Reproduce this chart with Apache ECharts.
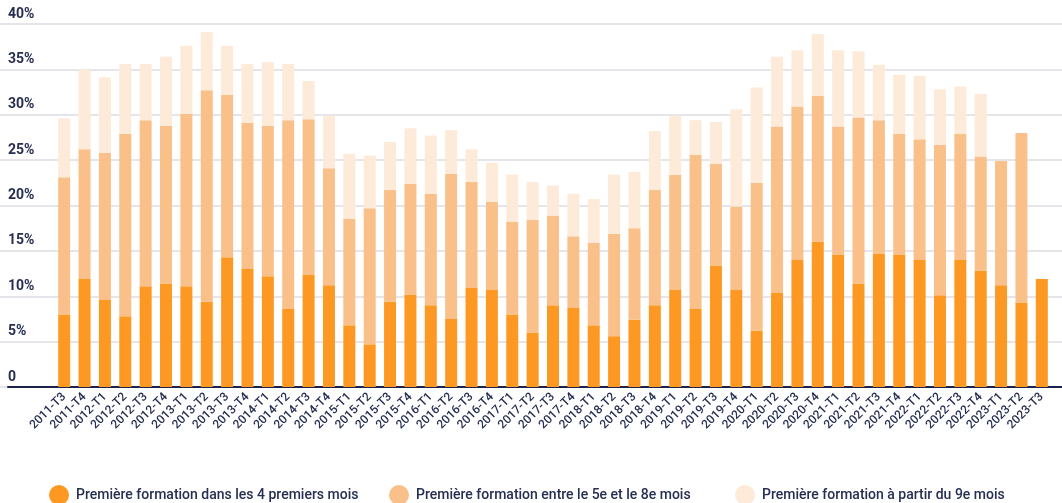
<!DOCTYPE html>
<html>
<head>
<meta charset="utf-8">
<script src="https://cdn.jsdelivr.net/npm/echarts@6/dist/echarts.min.js"></script>
<style>
  html, body { margin: 0; padding: 0; background: #fff; }
  #chart { width: 1062px; height: 503px; }
</style>
</head>
<body>
<div id="chart"></div>
<script>
// trimestres
var quarters = [
    '2011-T3','2011-T4',
    '2012-T1','2012-T2','2012-T3','2012-T4',
    '2013-T1','2013-T2','2013-T3','2013-T4',
    '2014-T1','2014-T2','2014-T3','2014-T4',
    '2015-T1','2015-T2','2015-T3','2015-T4',
    '2016-T1','2016-T2','2016-T3','2016-T4',
    '2017-T1','2017-T2','2017-T3','2017-T4',
    '2018-T1','2018-T2','2018-T3','2018-T4',
    '2019-T1','2019-T2','2019-T3','2019-T4',
    '2020-T1','2020-T2','2020-T3','2020-T4',
    '2021-T1','2021-T2','2021-T3','2021-T4',
    '2022-T1','2022-T2','2022-T3','2022-T4',
    '2023-T1','2023-T2','2023-T3'
];

// dans les 4 premiers mois
var first4 = [
    8.0, 11.9,
    9.6, 7.8, 11.1, 11.4,
    11.1, 9.4, 14.3, 13.0,
    12.2, 8.6, 12.4, 11.2,
    6.8, 4.7, 9.4, 10.2,
    9.0, 7.5, 10.9, 10.7,
    8.0, 6.0, 9.0, 8.7,
    6.8, 5.6, 7.4, 9.0,
    10.7, 8.6, 13.4, 10.7,
    6.2, 10.4, 14.0, 16.0,
    14.6, 11.4, 14.7, 14.6,
    14.0, 10.1, 14.0, 12.8,
    11.2, 9.3, 11.9
];

// entre le 5e et le 8e mois
var month5to8 = [
    15.1, 14.3,
    16.2, 20.1, 18.3, 17.4,
    19.0, 23.3, 17.9, 16.1,
    16.6, 20.8, 17.1, 12.9,
    11.7, 15.0, 12.3, 12.2,
    12.3, 16.0, 11.7, 9.7,
    10.2, 12.4, 9.9, 7.9,
    9.1, 11.3, 10.1, 12.7,
    12.7, 17.0, 11.2, 9.2,
    16.3, 18.3, 16.9, 16.1,
    14.1, 18.3, 14.7, 13.3,
    13.3, 16.6, 13.9, 12.6,
    13.7, 18.7, 0
];

// a partir du 9e mois
var month9plus = [
    6.5, 8.8,
    8.3, 7.7, 6.2, 7.6,
    7.5, 6.4, 5.4, 6.5,
    7.0, 6.2, 4.2, 5.8,
    7.2, 5.8, 5.3, 6.1,
    6.4, 4.8, 3.6, 4.3,
    5.2, 4.2, 3.3, 4.7,
    4.8, 6.5, 6.2, 6.5,
    6.5, 3.8, 4.6, 10.7,
    10.5, 7.7, 6.2, 6.8,
    8.4, 7.3, 6.1, 6.5,
    7.0, 6.1, 5.2, 6.9,
    0, 0, 0
];

var seriesNames = [
    'Première formation dans les 4 premiers mois',
    'Première formation entre le 5e et le 8e mois',
    'Première formation à partir du 9e mois'
];
var colors = ['#fd9823', '#f9c089', '#fdead8'];

var navy = '#262e52';
var chart = echarts.init(document.getElementById('chart'));

var barSerie = function (name, data, color) {
    return {
        name: name,
        type: 'bar',
        stack: 'total',
        xAxisIndex: 1,
        yAxisIndex: 1,
        barWidth: 12,
        itemStyle: { color: color },
        data: data
    };
};

// une légende par entrée pour caler les positions
var legendAt = function (name, left) {
    return {
        left: left,
        top: 480,
        icon: 'circle',
        itemWidth: 20,
        itemHeight: 20,
        textStyle: { color: navy, fontSize: 14, fontWeight: 500, padding: [0, 0, 0, 2] },
        data: [name]
    };
};

var option = {
    animation: false,
    textStyle: { fontFamily: 'Roboto' },
    grid: [
        { left: 0, right: 0, top: 24, bottom: 116 },   // quadrillage
        { left: 54, right: 10, top: 24, bottom: 116 }, // barres
        { left: 8, right: 0, top: 24, bottom: 116 }    // ligne d'axe
    ],
    xAxis: [
        { gridIndex: 0, type: 'value', show: false },
        {
            gridIndex: 1,
            type: 'category',
            data: quarters,
            boundaryGap: true,
            axisLine: { show: false },
            axisTick: { show: false },
            axisLabel: {
                rotate: 45,
                interval: 0,
                margin: 8,
                color: navy,
                fontSize: 12,
                fontWeight: 500
            }
        },
        {
            gridIndex: 2,
            type: 'value',
            axisLine: { show: true, lineStyle: { color: '#1b2348', width: 2 } },
            axisTick: { show: false },
            axisLabel: { show: false },
            splitLine: { show: false }
        }
    ],
    yAxis: [
        {
            gridIndex: 0,
            type: 'value',
            min: 0,
            max: 40,
            interval: 5,
            axisLine: { show: false },
            axisTick: { show: false },
            splitLine: { lineStyle: { color: '#dcdce4', width: 1.5 } },
            axisLabel: {
                inside: true,
                margin: 8,
                align: 'left',
                verticalAlign: 'bottom',
                padding: [0, 0, 3, 0],
                color: navy,
                fontSize: 14,
                fontWeight: 'bold',
                formatter: function (v) { return v === 0 ? '0' : v + '%'; }
            }
        },
        { gridIndex: 1, type: 'value', min: 0, max: 40, show: false },
        { gridIndex: 2, type: 'value', min: 0, max: 40, show: false }
    ],
    legend: [
        legendAt(seriesNames[0], 44),
        legendAt(seriesNames[1], 384),
        legendAt(seriesNames[2], 730)
    ],
    series: [
        barSerie(seriesNames[0], first4, colors[0]),
        barSerie(seriesNames[1], month5to8, colors[1]),
        barSerie(seriesNames[2], month9plus, colors[2])
    ]
};

chart.setOption(option);
</script>
</body>
</html>
